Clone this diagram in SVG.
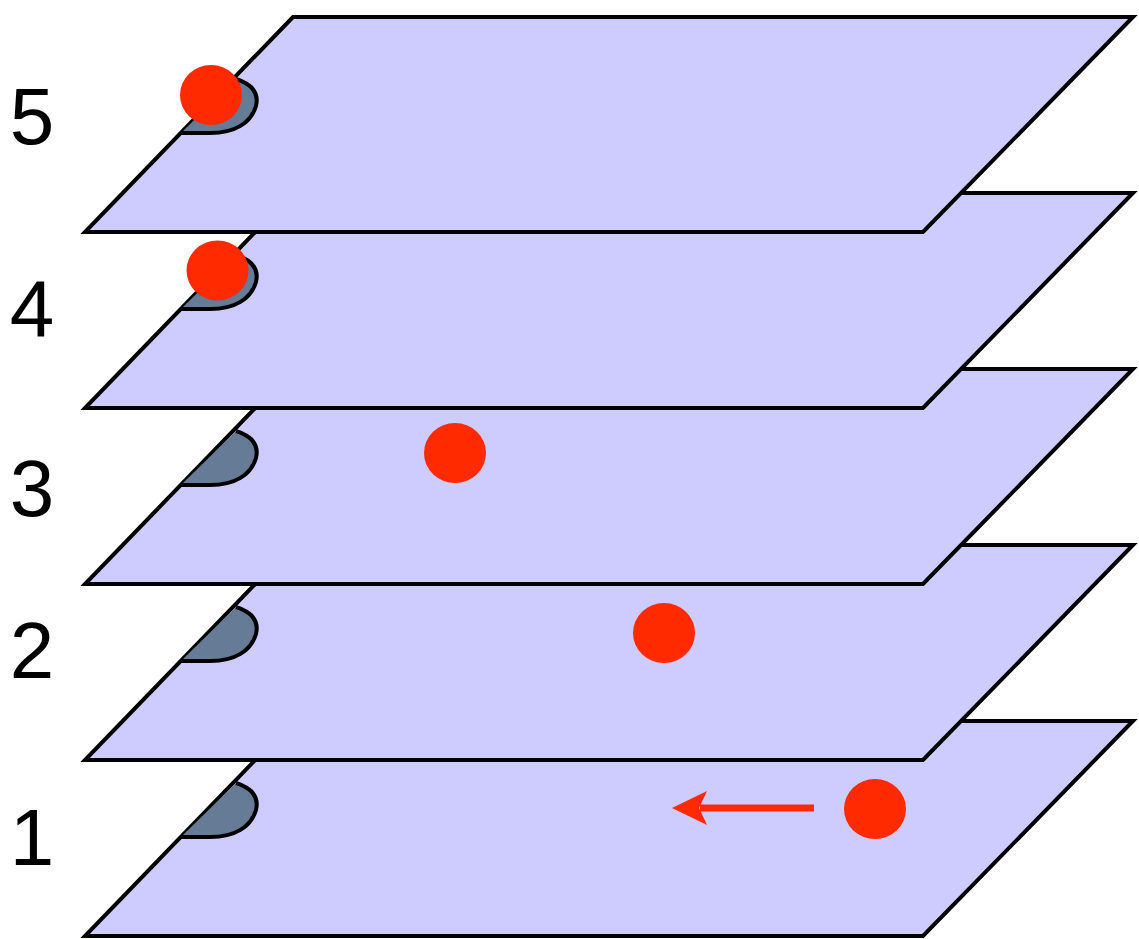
<svg xmlns="http://www.w3.org/2000/svg" width="1139" height="939" viewBox="0 0 1139 939">
<style>
.plane{fill:#cecbff;stroke:#000;stroke-width:4;stroke-linejoin:miter}
.tab{fill:#667b95;stroke:#000;stroke-width:4;stroke-linejoin:round}
.dot{fill:#ff2a00}
.lbl{font-family:"Gill Sans","Liberation Sans",Arial,sans-serif;font-size:80px;fill:#000;text-anchor:middle}
</style>
<defs>
<g id="layer">
<polygon class="plane" points="293,0 1133,0 923,215 85,215"/>
<path class="tab" d="M236,62 C252,67 259,76 256,89 C251,106 235,116 210,116 L181,116"/>
</g>
</defs>
<g id="layer1" transform="translate(0,721)"><use href="#layer"/></g>
<g id="layer2" transform="translate(0,545)"><use href="#layer"/></g>
<g id="layer3" transform="translate(0,369)"><use href="#layer"/></g>
<g id="layer4" transform="translate(0,193)"><use href="#layer"/></g>
<g id="layer5" transform="translate(0,17)"><use href="#layer"/></g>
<g id="labels">
<text class="lbl" x="32" y="144">5</text>
<text class="lbl" x="32" y="336">4</text>
<text class="lbl" x="32" y="516">3</text>
<text class="lbl" x="32" y="678">2</text>
<text class="lbl" x="32" y="865">1</text>
</g>
<g id="dots">
<ellipse class="dot" cx="211" cy="95" rx="31" ry="30"/>
<ellipse class="dot" cx="217.5" cy="270.5" rx="31" ry="30"/>
<ellipse class="dot" cx="455" cy="453" rx="31" ry="30"/>
<ellipse class="dot" cx="664" cy="633" rx="31" ry="30"/>
<ellipse class="dot" cx="875" cy="809" rx="31" ry="30"/>
</g>
<g id="connectors">
<line x1="814" y1="808" x2="700" y2="808" stroke="#ff2a00" stroke-width="7"/>
<polygon points="672,808 707,791 699,808 707,825" fill="#ff2a00"/>
</g>
</svg>
